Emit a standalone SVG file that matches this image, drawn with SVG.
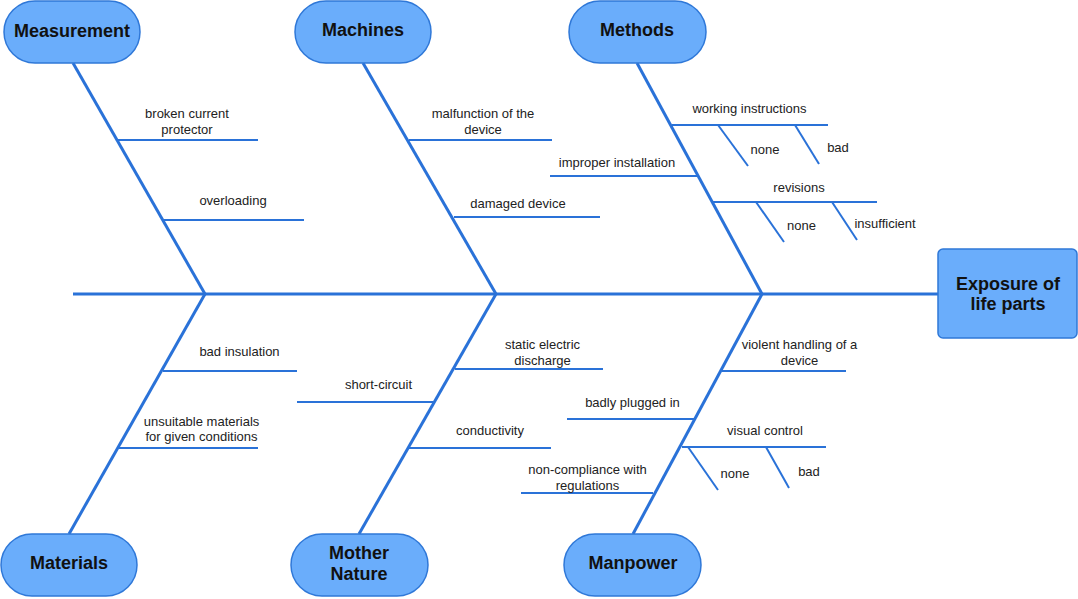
<svg xmlns="http://www.w3.org/2000/svg" width="1078" height="599" viewBox="0 0 1078 599">
<style>
.pill{fill:#6aadfb;stroke:#2f78d8;stroke-width:1.5}
.cat{font-family:"Liberation Sans",Arial,sans-serif;font-weight:bold;font-size:18px;fill:#111;text-anchor:middle}
.lbl{font-family:"Liberation Sans",Arial,sans-serif;font-size:13px;fill:#222;text-anchor:middle}
.bone{stroke:#2a72d8;stroke-width:3;fill:none}
.sub{stroke:#2a72d8;stroke-width:2;fill:none}
</style>
<rect width="1078" height="599" fill="#fff"/>
<g id="connectors">
<line class="bone" x1="73" y1="294" x2="938" y2="294"/>
<line class="bone" x1="73" y1="63" x2="205" y2="294"/>
<line class="bone" x1="363" y1="63" x2="496" y2="294"/>
<line class="bone" x1="637" y1="63" x2="762" y2="294"/>
<line class="bone" x1="205" y1="294" x2="69" y2="534"/>
<line class="bone" x1="496" y1="294" x2="359" y2="534"/>
<line class="bone" x1="762" y1="294" x2="633" y2="534"/>
<line class="sub" x1="118" y1="140" x2="258" y2="140"/>
<line class="sub" x1="163" y1="220" x2="304" y2="220"/>
<line class="sub" x1="409" y1="140" x2="552" y2="140"/>
<line class="sub" x1="454" y1="217" x2="600" y2="217"/>
<line class="sub" x1="672" y1="125" x2="828" y2="125"/>
<line class="sub" x1="718" y1="125" x2="748" y2="166"/>
<line class="sub" x1="795" y1="125" x2="819" y2="164"/>
<line class="sub" x1="550" y1="176" x2="697" y2="176"/>
<line class="sub" x1="713" y1="202" x2="877" y2="202"/>
<line class="sub" x1="756" y1="202" x2="784" y2="242"/>
<line class="sub" x1="832" y1="202" x2="857" y2="240"/>
<line class="sub" x1="163" y1="371" x2="297" y2="371"/>
<line class="sub" x1="119" y1="448" x2="258" y2="448"/>
<line class="sub" x1="297" y1="402" x2="433" y2="402"/>
<line class="sub" x1="455" y1="369" x2="603" y2="369"/>
<line class="sub" x1="409" y1="448" x2="551" y2="448"/>
<line class="sub" x1="722" y1="371" x2="846" y2="371"/>
<line class="sub" x1="567" y1="419" x2="694" y2="419"/>
<line class="sub" x1="682" y1="447" x2="826" y2="447"/>
<line class="sub" x1="688" y1="447" x2="718" y2="490"/>
<line class="sub" x1="766" y1="447" x2="789" y2="488"/>
<line class="sub" x1="521" y1="493" x2="653" y2="493"/>
</g>
<g id="head">
<rect x="938" y="249" width="139" height="89" rx="5" class="pill"/>
<text class="cat" x="1008" y="290">Exposure of</text>
<text class="cat" x="1008" y="310">life parts</text>
</g>
<g id="measurement">
<rect x="4" y="1" width="136" height="62" rx="31" class="pill"/>
<text class="cat" x="72" y="37">Measurement</text>
</g>
<g id="machines">
<rect x="295" y="1" width="136" height="62" rx="31" class="pill"/>
<text class="cat" x="363" y="36">Machines</text>
</g>
<g id="methods">
<rect x="569" y="1" width="137" height="62" rx="31" class="pill"/>
<text class="cat" x="637" y="36">Methods</text>
</g>
<g id="materials">
<rect x="1" y="534" width="136" height="62" rx="31" class="pill"/>
<text class="cat" x="69" y="569">Materials</text>
</g>
<g id="mother-nature">
<rect x="291" y="534" width="137" height="62" rx="31" class="pill"/>
<text class="cat" x="359" y="559">Mother</text>
<text class="cat" x="359" y="580">Nature</text>
</g>
<g id="manpower">
<rect x="564" y="534" width="137" height="62" rx="31" class="pill"/>
<text class="cat" x="633" y="569">Manpower</text>
</g>
<g id="labels">
<text class="lbl" x="187" y="117.5">broken current</text>
<text class="lbl" x="187" y="133.5">protector</text>
<text class="lbl" x="233" y="205">overloading</text>
<text class="lbl" x="483" y="117.5">malfunction of the</text>
<text class="lbl" x="483" y="133.5">device</text>
<text class="lbl" x="518" y="207.5">damaged device</text>
<text class="lbl" x="749.5" y="112.5">working instructions</text>
<text class="lbl" x="765" y="153.5">none</text>
<text class="lbl" x="838" y="152">bad</text>
<text class="lbl" x="617" y="167">improper installation</text>
<text class="lbl" x="799" y="192">revisions</text>
<text class="lbl" x="801.5" y="229.5">none</text>
<text class="lbl" x="885" y="227.5">insufficient</text>
<text class="lbl" x="239.5" y="356">bad insulation</text>
<text class="lbl" x="201.5" y="425.5">unsuitable materials</text>
<text class="lbl" x="201.5" y="441">for given conditions</text>
<text class="lbl" x="378.5" y="388.5">short-circuit</text>
<text class="lbl" x="542.5" y="349">static electric</text>
<text class="lbl" x="542.5" y="364.5">discharge</text>
<text class="lbl" x="490" y="435">conductivity</text>
<text class="lbl" x="799.5" y="349">violent handling of a</text>
<text class="lbl" x="799.5" y="364.5">device</text>
<text class="lbl" x="632.5" y="406.5">badly plugged in</text>
<text class="lbl" x="765" y="435">visual control</text>
<text class="lbl" x="735" y="478">none</text>
<text class="lbl" x="809" y="476">bad</text>
<text class="lbl" x="587.5" y="473.5">non-compliance with</text>
<text class="lbl" x="587.5" y="489.5">regulations</text>
</g>
</svg>
